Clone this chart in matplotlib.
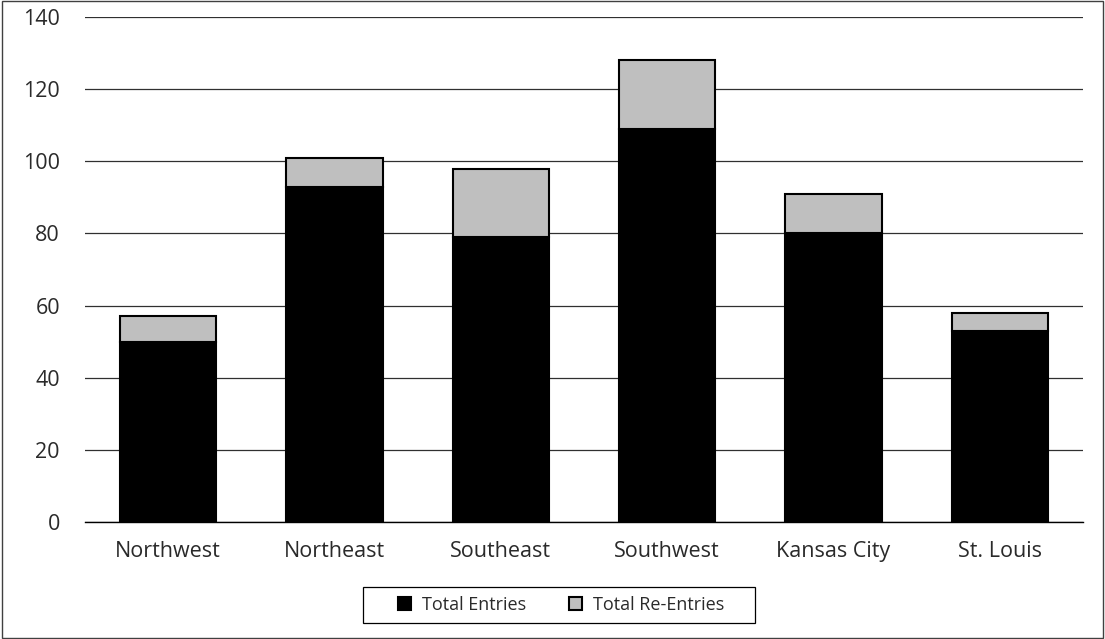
import numpy as np
import matplotlib.pyplot as plt
from matplotlib.patches import Rectangle

regions = ["Northwest", "Northeast", "Southeast", "Southwest", "Kansas City", "St. Louis"]
entries = [50, 93, 79, 109, 80, 53]
re_entries = [7, 8, 19, 19, 11, 5]

plt.rcParams['font.family'] = ['Open Sans', 'DejaVu Sans']

W, H = 1105, 639
fig = plt.figure(figsize=(W/100, H/100), dpi=100)
ax = fig.add_axes([85/W, (H-522)/H, (1083-85)/W, (522-17)/H])

x = np.arange(len(regions))
w = 0.58
ax.bar(x, entries, w, color='black', edgecolor='black', linewidth=1.5,
       label='Total Entries', zorder=3)
ax.bar(x, re_entries, w, bottom=entries, color='#bfbfbf', edgecolor='black',
       linewidth=1.5, label='Total Re-Entries', zorder=3)

ax.set_xlim(-0.5, len(regions) - 0.5)
ax.set_ylim(0, 140)
ax.set_yticks(range(0, 141, 20))
ax.set_xticks(x)
ax.set_xticklabels(regions, fontsize=15.5)
ax.tick_params(axis='y', length=0, pad=18, labelsize=15.5, colors='#2a2a2a')
ax.tick_params(axis='x', length=0, pad=14, colors='#2a2a2a')
ax.yaxis.grid(True, color='#303030', linewidth=0.9, zorder=0)
for s in ['top', 'right', 'left']:
    ax.spines[s].set_visible(False)
ax.spines['bottom'].set_linewidth(1.0)

# legend box drawn by hand, legend entries centred inside it
fig.patches.append(Rectangle((363/W, (H-623)/H), (755-363)/W, 36/H, transform=fig.transFigure,
                             fill=False, edgecolor='black', linewidth=0.9))
leg = fig.legend(loc='center', bbox_to_anchor=(561/W, (H-605)/H), ncol=2,
                 fontsize=13, frameon=False,
                 handlelength=0.7, handleheight=0.7, handletextpad=0.6,
                 columnspacing=2.4, borderpad=0.2)
for t in leg.get_texts():
    t.set_color('#2a2a2a')

fig.patches.append(Rectangle((0.002, 0.002), 0.996, 0.996, transform=fig.transFigure,
                             fill=False, edgecolor='#404040', linewidth=1.0))

fig.savefig('out.png', dpi=100)
